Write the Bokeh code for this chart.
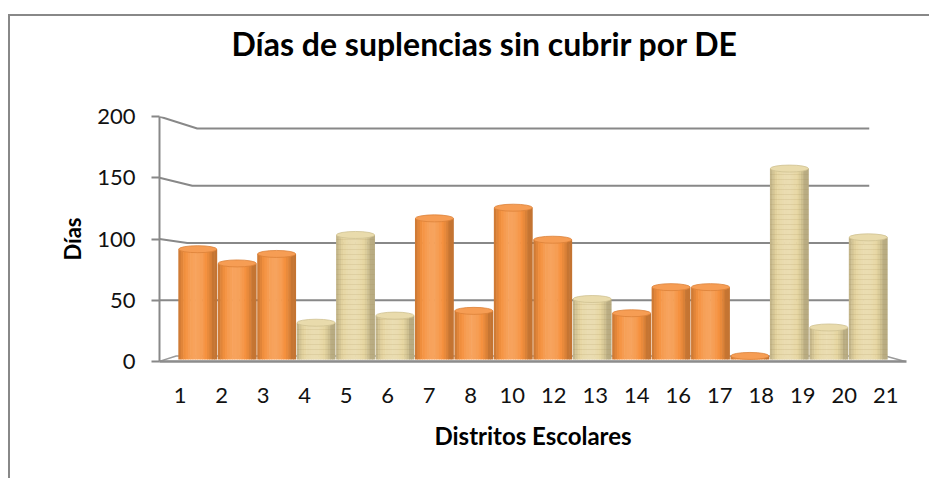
import math
from bokeh.plotting import figure
from bokeh.models import ColumnDataSource, Range1d, FixedTicker, Title
from bokeh.embed import file_html
from bokeh.resources import INLINE

# ---------------- data ----------------
districts = ["1", "2", "3", "4", "5", "6", "7", "8", "10", "12", "13",
             "14", "16", "17", "18", "19", "20", "21"]
days = [93, 81, 89, 31, 105, 37, 119, 41, 128, 101, 51, 39, 61, 61, 3, 161, 27, 103]
textured = ["4", "5", "6", "13", "19", "20", "21"]   # bars with parchment fill
y_ticks = [0, 50, 100, 150, 200]

title_text = "Días de suplencias sin cubrir por DE"
x_title = "Distritos Escolares"
y_title = "Días"

# ---------------- layout constants ----------------
OX, OY = 10, 16                 # canvas origin on the page (after css margin + border)
W, H = 921, 464
FRAME_L, FRAME_W = 149, 747
FRAME_T, FRAME_H = 100, 245

ORANGE = (245, 145, 62)
BEIGE = (230, 214, 162)


def shade(base, f):
    if f <= 1:
        c = [int(round(b * f)) for b in base]
    else:
        c = [int(round(b + (255 - b) * (f - 1) * 1.6)) for b in base]
    c = [max(0, min(255, v)) for v in c]
    return "#%02x%02x%02x" % tuple(c)


n = len(districts)
pos = [i + 0.5 for i in range(n)]          # category slots on the front plane

p = figure(width=W, height=H, x_range=Range1d(0, n), y_range=Range1d(0, 200),
           output_backend="svg", toolbar_location=None, tools="")
p.styles = {"margin-left": "8px", "margin-top": "14px",
            "border-left": "2px solid #888888", "border-top": "2px solid #888888"}
p.min_border_left = FRAME_L
p.min_border_right = W - FRAME_L - FRAME_W
p.min_border_top = FRAME_T
p.min_border_bottom = H - FRAME_T - FRAME_H
p.outline_line_color = None
p.xgrid.visible = False
p.ygrid.visible = False
p.background_fill_color = "white"
p.border_fill_color = "white"

# bars sit half-way into the depth of the 3D box: own scales for that plane
p.extra_x_ranges["depth"] = Range1d(-0.47, n + 0.47)
p.extra_y_ranges["depth"] = Range1d(-1.69, 204.9)

# ---------------- perspective back wall and floor (page px -> front-plane data) ----------------
PX0, PXU = 159.25, 41.5
PY0, PYU = 361.0, 1.225


def to_front(px, py):
    return (px - PX0) / PXU, (PY0 - py) / PYU


def back_y(v):
    return 357 - 1.145 * v


def back_left(v):
    return 177 + 0.1 * v


BACK_RIGHT = 869
grid_xs, grid_ys = [], []
for v in y_ticks[1:]:
    x1, y1 = to_front(back_left(v), back_y(v))
    x2, y2 = to_front(BACK_RIGHT, back_y(v))
    grid_xs.append([0, x1, x2])
    grid_ys.append([v, y1, y2])
p.multi_line(grid_xs, grid_ys, line_color="#888888", line_width=2)

fl = [to_front(158.5, 361), to_front(905, 361), to_front(885, 355.5), to_front(176, 355.5)]
p.patch([a for a, b in fl], [b for a, b in fl], fill_color="white",
        line_color="#9a9a9a", line_width=1.5)

# ---------------- cylinder bars ----------------
is_tex = [d in textured for d in districts]
bw = 0.97
N = 16
for j in range(N):
    t = (j + 0.5) / N
    f = 0.80 + 0.30 * math.sin(math.pi * min(1.0, t * 1.1)) ** 0.8
    cols = [shade(BEIGE if tx else ORANGE, f) for tx in is_tex]
    src = ColumnDataSource(dict(x=[x - bw / 2 + t * bw for x in pos], top=days, c=cols))
    p.vbar(x="x", top="top", bottom=0, width=bw / N * 1.25, source=src,
           fill_color="c", line_color=None,
           x_range_name="depth", y_range_name="depth")

# parchment grain on the textured bars
hsrc = ColumnDataSource(dict(x=pos, top=days,
                             h=["horizontal_line" if tx else " " for tx in is_tex]))
p.vbar(x="x", top="top", bottom=0, width=bw, source=hsrc, fill_alpha=0, line_color=None,
       hatch_pattern="h", hatch_color="#a08850", hatch_alpha=0.16, hatch_scale=5,
       hatch_weight=1, x_range_name="depth", y_range_name="depth")

cap_fill = [shade(BEIGE if tx else ORANGE, 1.07) for tx in is_tex]
cap_line = [shade(BEIGE if tx else ORANGE, 0.9) for tx in is_tex]
p.ellipse(x=pos, y=days, width=bw, height=7, height_units="screen",
          fill_color=cap_fill, line_color=cap_line, line_width=0.8,
          x_range_name="depth", y_range_name="depth")

# ---------------- axes ----------------
yax = p.yaxis[0]
yax.ticker = FixedTicker(ticks=y_ticks)
yax.axis_line_color = "#888888"
yax.axis_line_width = 2
yax.major_tick_line_color = "#888888"
yax.major_tick_line_width = 2
yax.major_tick_out = 8
yax.major_tick_in = 0
yax.minor_tick_line_color = None
yax.major_label_standoff = 16
yax.major_label_text_font = "Lato"
yax.major_label_text_font_size = "22px"
yax.major_label_text_color = "#111111"
yax.axis_label = y_title
yax.axis_label_text_font = "Lato"
yax.axis_label_text_font_style = "bold"
yax.axis_label_text_font_size = "22px"
yax.axis_label_text_color = "#000000"
yax.axis_label_standoff = 8

xax = p.xaxis[0]
xax.ticker = FixedTicker(ticks=pos)
xax.major_label_overrides = {x: d for x, d in zip(pos, districts)}
xax.axis_line_color = "#8c8c8c"
xax.axis_line_width = 2.5
xax.major_tick_line_color = None
xax.minor_tick_line_color = None
xax.major_label_standoff = 20
xax.major_label_text_font = "Lato"
xax.major_label_text_font_size = "22px"
xax.major_label_text_color = "#111111"
xax.axis_label = x_title
xax.axis_label_text_font = "Lato"
xax.axis_label_text_font_style = "bold"
xax.axis_label_text_font_size = "24px"
xax.axis_label_text_color = "#000000"
xax.axis_label_standoff = 15

# ---------------- title (with an empty spacer panel between it and the frame) ----------------
p.add_layout(Title(text=" ", text_font_size="10px", standoff=39), "above")
p.title.text = title_text
p.title.align = "left"
p.title.offset = 72
p.title.vertical_align = "top"
p.title.standoff = 0
p.title.text_font = "Lato"
p.title.text_font_style = "bold"
p.title.text_font_size = "32px"
p.title.text_color = "#000000"

open("out.html", "w").write(file_html(p, INLINE))
